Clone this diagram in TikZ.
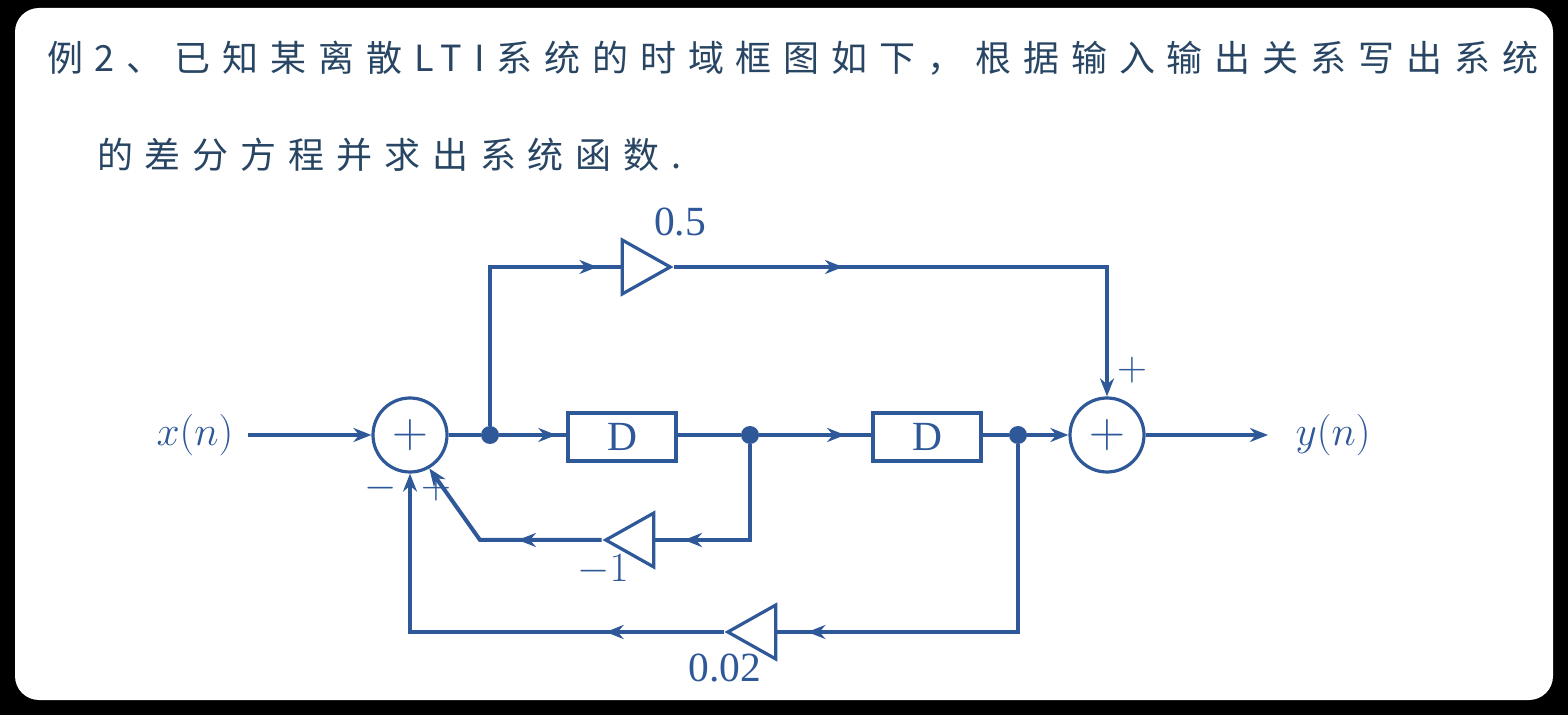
\documentclass[tikz,border=0pt]{standalone}
\usepackage{fontspec}
\setmainfont{Liberation Serif}
\newfontfamily\cjk[LetterSpace=33]{Noto Sans CJK SC}
\usetikzlibrary{arrows.meta,positioning,shapes.geometric,decorations.markings}
\definecolor{sigblue}{RGB}{46,88,152}
\definecolor{titlecol}{RGB}{40,70,100}
\tikzset{
  wire/.style={draw=sigblue, line width=2pt},
  arr/.style={wire, -{Stealth[length=9pt,width=7pt]}},
  midarr/.style={wire, postaction=decorate, decoration={markings,
      mark=at position #1 with {\arrow[sigblue]{Stealth[length=9pt,width=7pt]}}}},
  adder/.style={circle, draw=sigblue, line width=1.6pt, minimum size=37pt, inner sep=0pt, text=sigblue, font=\fontsize{28}{30}\selectfont},
  delay/.style={rectangle, draw=sigblue, line width=1.6pt, minimum width=54pt, minimum height=24pt, text=sigblue, font=\huge},
  gain/.style={isosceles triangle, isosceles triangle stretches, draw=sigblue, line width=1.6pt,
      minimum width=27pt, minimum height=24pt, inner sep=0pt},
  dot/.style={circle, fill=sigblue, minimum size=9pt, inner sep=0pt},
  lbl/.style={text=sigblue, font=\huge},
  sgn/.style={text=sigblue, font=\huge}
}
\begin{document}
\begin{tikzpicture}[x=0.5pt, y=-0.5pt]
  \useasboundingbox (0,0) rectangle (1568,715);
  \fill[black] (0,0) rectangle (1568,715);
  \fill[white, rounded corners=12pt] (15,8) rectangle (1553,700);

  % title
  \node[anchor=west, text=titlecol, font=\cjk\fontsize{18}{20}\selectfont] (t1) at (40,58)
    {例2、已知某离散LTI系统的时域框图如下，根据输入输出关系写出系统};
  \node[anchor=west, text=titlecol, font=\cjk\fontsize{18}{20}\selectfont] (t2) at (90,155)
    {的差分方程并求出系统函数.};

  % blocks
  \node[lbl] (xn) at (195,435) {$x(n)$};
  \node[adder] (s1) at (410,435) {$+$};
  \node[dot] (d1) at (490,435) {};
  \node[delay] (D1) at (622,437) {D};
  \node[dot] (d2) at (750,435) {};
  \node[delay] (D2) at (927,437) {D};
  \node[dot] (d3) at (1018,435) {};
  \node[adder] (s2) at (1107,435) {$+$};
  \node[lbl] (yn) at (1333,435) {$y(n)$};
  \coordinate (xstart) at (248,435);
  \coordinate (yend) at (1268,435);

  % gains
  \node[gain] (g1) at (638,267) {};
  \node[lbl] (g1l) at (680,222) {0.5};
  \node[gain, shape border rotate=180] (g2) at (638,540) {};
  \node[lbl] (g2l) at (603,570) {$-1$};
  \node[gain, shape border rotate=180] (g3) at (760,632) {};
  \node[lbl] (g3l) at (725,668) {0.02};

  % signs
  \node[sgn] at (1132,370) {$+$};
  \node[sgn] at (436,488) {$+$};
  \node[sgn] at (381,488) {$-$};

  % helper points
  \coordinate (up1) at (490,267);
  \coordinate (up2) at (1107,267);
  \coordinate (dn2) at (750,540);
  \coordinate (bk2) at (480,540);
  \coordinate (dn3) at (1018,632);
  \coordinate (bk3) at (410,632);

  % connections
  \draw[arr] (xstart) -- (s1);
  \draw[wire] (s1) -- (d1);
  \draw[midarr=0.85] (d1) -- (D1.west |- d1);
  \draw[midarr=0.85] (D1.east |- d2) -- (d2) -- (D2.west |- d2);
  \draw[wire] (D2.east |- d3) -- (d3);
  \draw[arr] (d3) -- (s2);
  \draw[arr] (s2) -- (yend);
  \draw[midarr=0.92] (d1) -- (up1) -- (g1.lower side);
  \draw[midarr=0.3, arr] (g1.apex) -- (up2) -- (s2);
  \draw[midarr=0.85] (d2) -- (dn2) -- (g2.lower side);
  \draw[midarr=0.4, arr] (g2.apex) -- (bk2) -- (s1.-60);
  \draw[midarr=0.93] (d3) -- (dn3) -- (g3.lower side);
  \draw[midarr=0.25, arr] (g3.apex) -- (bk3) -- (s1);
\end{tikzpicture}
\end{document}
